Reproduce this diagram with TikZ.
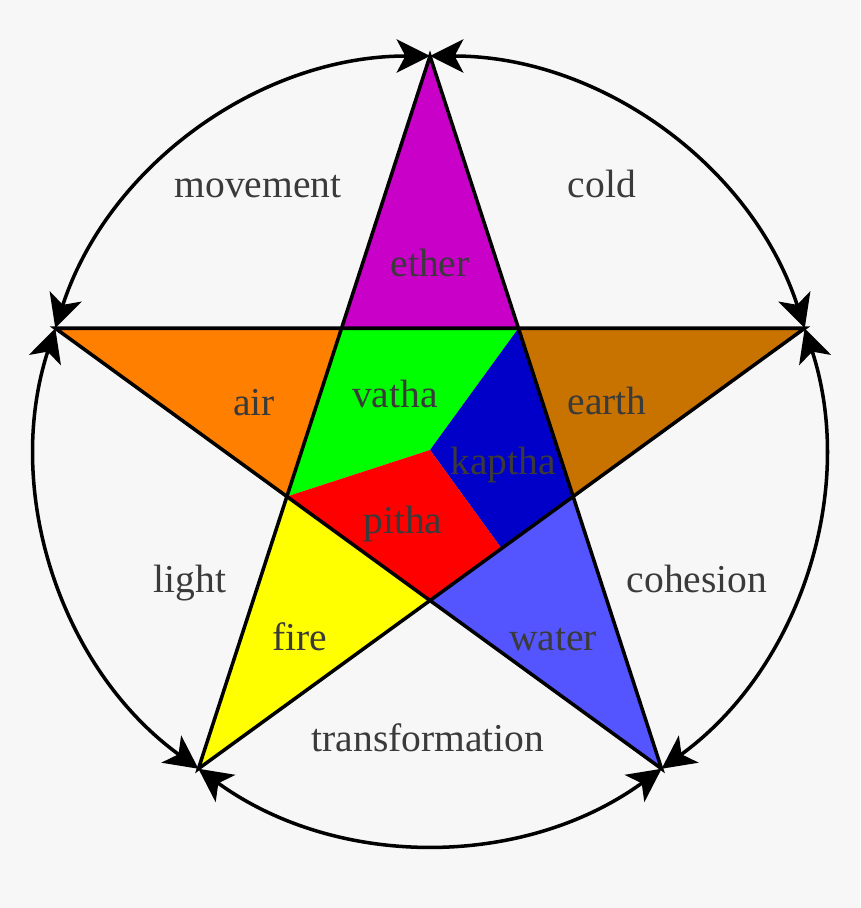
\documentclass[tikz,border=0pt]{standalone}
\usepackage{fontspec}
\setmainfont{Liberation Serif}
\usepackage{xcolor}
\usetikzlibrary{arrows.meta,calc}

\definecolor{bgcol}{RGB}{247,247,247}
\definecolor{txtcol}{RGB}{58,58,58}
\definecolor{ethercol}{RGB}{200,0,200}
\definecolor{aircol}{RGB}{255,127,0}
\definecolor{earthcol}{RGB}{200,115,0}
\definecolor{firecol}{RGB}{255,255,0}
\definecolor{watercol}{RGB}{85,85,255}
\definecolor{vathacol}{RGB}{0,255,0}
\definecolor{kapthacol}{RGB}{0,0,200}
\definecolor{pithacol}{RGB}{255,0,0}

\begin{document}
\begin{tikzpicture}[
   x=0.02cm, y=0.02cm,
   lbl/.style={font=\fontsize{22.5}{27}\selectfont,text=txtcol,inner sep=0pt,anchor=base},
   ring/.style={line width=2pt,{Stealth[length=19pt,width=19pt,inset=5pt]}-{Stealth[length=19pt,width=19pt,inset=5pt]}},
   star/.style={line width=2pt,line join=miter}]
  \fill[bgcol] (0,-908) rectangle (860,0);
  \useasboundingbox (0,-908) rectangle (860,0);
  % outer and inner points
  \coordinate (c) at (430,-450);
  \foreach \i/\a in {1/90,2/162,3/234,4/306,5/18} {
    \coordinate (o\i) at ($(c)+(\a:394)$);
    \coordinate (i\i) at ($(c)+(\a+36:150.5)$);
  }
  \coordinate (m) at ($(i3)!0.5!(i4)$);
  % elements
  \fill[ethercol] (o1) -- (i5) -- (i1) -- cycle;
  \fill[aircol] (o2) -- (i1) -- (i2) -- cycle;
  \fill[firecol] (o3) -- (i2) -- (i3) -- cycle;
  \fill[watercol] (o4) -- (i3) -- (i4) -- cycle;
  \fill[earthcol] (o5) -- (i4) -- (i5) -- cycle;
  % doshas
  \fill[vathacol] (i1) -- (i5) -- (c) -- (i2) -- cycle;
  \fill[kapthacol] (i5) -- (i4) -- (m) -- (c) -- cycle;
  \fill[pithacol] (i2) -- (c) -- (m) -- (i3) -- cycle;
  \draw[star] (o1) -- (o3) -- (o5) -- (o2) -- (o4) -- cycle;
  % circle
  \foreach \i/\a in {1/90,5/18,4/-54,3/-126,2/-198}
    \draw[ring] (o\i) arc[start angle=\a,end angle=\a-72,radius=394];
  % labels
  \node[lbl] (ether) at (430,-277) {ether};
  \node[lbl] (air) at (254,-415) {air};
  \node[lbl] (earth) at (607,-414) {earth};
  \node[lbl] (fire) at (300,-650) {fire};
  \node[lbl] (water) at (553,-650) {water};
  \node[lbl] (vatha) at (395,-407) {vatha};
  \node[lbl] (kaptha) at (503,-474) {kaptha};
  \node[lbl] (pitha) at (403,-533) {pitha};
  \node[lbl] (movement) at (258,-198) {movement};
  \node[lbl] (cold) at (602,-198) {cold};
  \node[lbl] (light) at (190,-592) {light};
  \node[lbl] (cohesion) at (697,-592) {cohesion};
  \node[lbl] (transformation) at (428,-751) {transformation};
\end{tikzpicture}
\end{document}
